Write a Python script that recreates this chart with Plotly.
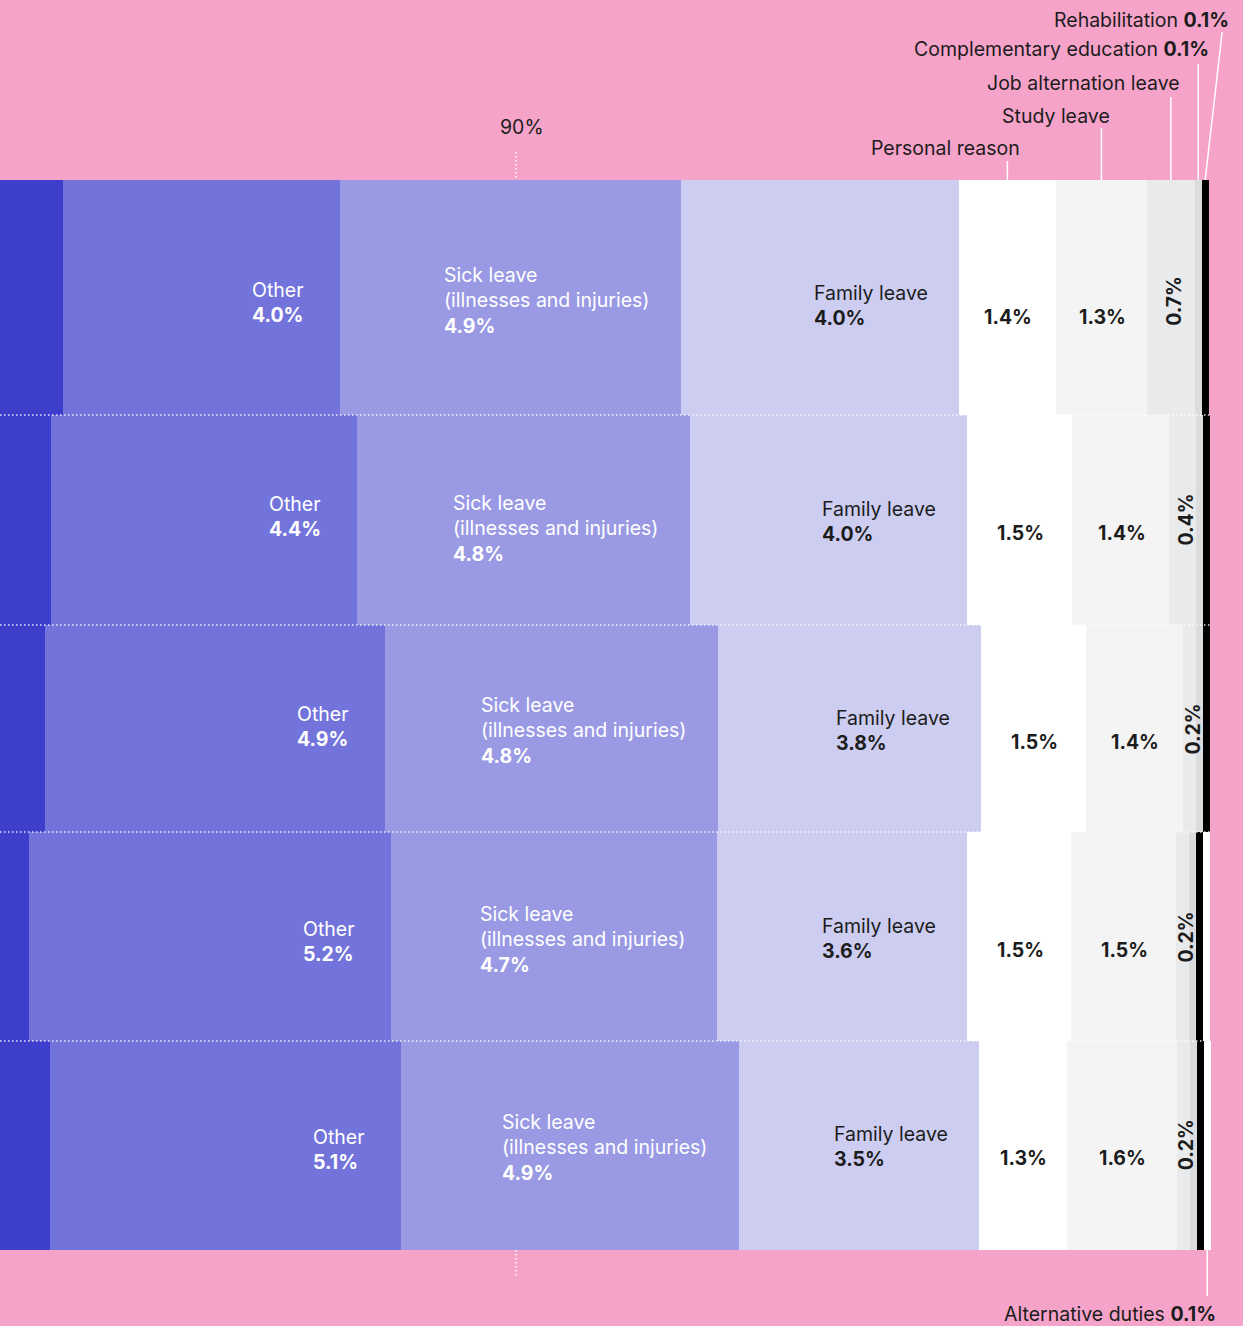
import plotly.graph_objects as go

# shares of working time (%) per row, top row first; stacked left -> right
at_work = [83.47, 83.30, 83.21, 82.98, 83.29]
other = [4.0, 4.41, 4.9, 5.22, 5.06]
sick_leave = [4.91, 4.8, 4.8, 4.7, 4.86]
family_leave = [4.0, 3.99, 3.79, 3.6, 3.46]
personal_reason = [1.4, 1.51, 1.51, 1.5, 1.27]
study_leave = [1.31, 1.4, 1.4, 1.51, 1.58]
job_alternation = [0.69, 0.39, 0.19, 0.19, 0.19]
complementary_education = [0.1, 0.1, 0.1, 0.1, 0.1]
rehabilitation = [0.1, 0.1, 0.1, 0.1, 0.1]
alternative_duties = [0.0, 0.0, 0.0, 0.1, 0.1]

series = [
    ("At work", at_work, "#3e3ecc"),
    ("Other", other, "#7374db"),
    ("Sick leave", sick_leave, "#9a9ae4"),
    ("Family leave", family_leave, "#cccdf0"),
    ("Personal reason", personal_reason, "#ffffff"),
    ("Study leave", study_leave, "#f4f4f4"),
    ("Job alternation leave", job_alternation, "#e9eaec"),
    ("Complementary education", complementary_education, "#dcdcde"),
    ("Rehabilitation", rehabilitation, "#000000"),
    ("Alternative duties", alternative_duties, "#ffffff"),
]

# layout (pixels): y axis runs in pixel units, top to bottom
W, H = 1243, 1326
ROW_EDGES = [180, 415, 625, 832, 1041, 1250]
centers = [(a + b) / 2 for a, b in zip(ROW_EDGES[:-1], ROW_EDGES[1:])]
heights = [b - a for a, b in zip(ROW_EDGES[:-1], ROW_EDGES[1:])]
X_RANGE = [82.565, 100.475]

# vertical nudges (px) of the in-bar labels, per row
DY_OTHER = [4.5, -4, -2.5, 4.5, 3.5]
DY_SICK = [2.5, 8, 1.5, 2.5, 1.5]
DY_FAMILY = [7.5, 1, 1.5, 1.5, 0.5]
DY_SMALL = [19.5, 13, 13.5, 13.5, 12.5]
DY_JOB = [3.5, 0, 0.5, 0.5, -0.5]

PINK = "#f5a3c8"
INK = "#1c1c1c"
FONT = "Inter"
FS = 19.5

fig = go.Figure()
for name, vals, color in series:
    fig.add_trace(go.Bar(
        x=vals, y=centers, width=heights, orientation="h", name=name,
        marker=dict(color=color, line=dict(width=0)), hoverinfo="x+name",
    ))

# cumulative ends per row
ends = {}
run = [0.0] * 5
for name, vals, _ in series:
    run = [r + v for r, v in zip(run, vals)]
    ends[name] = list(run)


def seg_center(name, i):
    idx = [s[0] for s in series].index(name)
    return ends[name][i] - series[idx][1][i] / 2


def label(**kw):
    kw.setdefault("showarrow", False)
    fig.add_annotation(**kw)


for i in range(5):
    cy = centers[i]
    label(x=ends["Other"][i], y=cy + DY_OTHER[i], xanchor="left", xshift=-90,
          text=f"Other<br><b>{other[i]:.1f}%</b>", align="left",
          font=dict(color="white", size=FS))
    label(x=ends["Sick leave"][i], y=cy + DY_SICK[i], xanchor="left", xshift=-239,
          text=f"Sick leave<br>(illnesses and injuries)<br><b>{sick_leave[i]:.1f}%</b>",
          align="left", font=dict(color="white", size=FS))
    label(x=ends["Family leave"][i], y=cy + DY_FAMILY[i], xanchor="left", xshift=-147,
          text=f"Family leave<br><b>{family_leave[i]:.1f}%</b>", align="left",
          font=dict(color=INK, size=FS))
    label(x=seg_center("Personal reason", i), y=cy + DY_SMALL[i], xshift=1,
          text=f"<b>{personal_reason[i]:.1f}%</b>", font=dict(color=INK, size=FS))
    label(x=seg_center("Study leave", i), y=cy + DY_SMALL[i], xshift=1,
          text=f"<b>{study_leave[i]:.1f}%</b>", font=dict(color=INK, size=FS))
    label(x=seg_center("Job alternation leave", i), y=cy + DY_JOB[i], xshift=3,
          text=f"<b>{job_alternation[i]:.1f}%</b>", textangle=-90,
          font=dict(color=INK, size=FS))

# dotted row separators
for yb in ROW_EDGES[1:-1]:
    fig.add_shape(type="line", x0=X_RANGE[0], x1=100, y0=yb, y1=yb,
                  line=dict(color="rgba(255,255,255,0.85)", width=1.5, dash="1.5px,2.5px"))

# 90% tick
for y0, y1 in [(152, ROW_EDGES[0]), (ROW_EDGES[-1], 1278)]:
    fig.add_shape(type="line", x0=90, x1=90, y0=y0, y1=y1,
                  line=dict(color="white", width=1.5, dash="1.5px,2.5px"))
label(x=90, y=127, xshift=6, text="90%", font=dict(color=INK, size=FS))

# callouts above the top row
top_labels = [
    ("Personal reason", "Personal reason", 161, 148, 15),
    ("Study leave", "Study leave", 128, 116, 11),
    ("Job alternation leave", "Job alternation leave", 97, 83, 11),
    ("Complementary education",
     f"Complementary education <b>{complementary_education[0]:.1f}%</b>", 64, 49, 13),
]
for key, text, ytop, ylab, shift in top_labels:
    xc = seg_center(key, 0)
    fig.add_shape(type="line", x0=xc, x1=xc, y0=ytop, y1=ROW_EDGES[0],
                  line=dict(color="white", width=1.5))
    label(x=xc, y=ylab, xanchor="right", xshift=shift, text=text,
          font=dict(color=INK, size=FS))

xr = seg_center("Rehabilitation", 0)
fig.add_shape(type="line", xref="x", xsizemode="pixel", xanchor=xr, x0=17, x1=0,
              y0=32, y1=ROW_EDGES[0], line=dict(color="white", width=1.5))
label(x=xr, y=20, xanchor="right", xshift=26,
      text=f"Rehabilitation <b>{rehabilitation[0]:.1f}%</b>",
      font=dict(color=INK, size=FS))

xa = seg_center("Alternative duties", 4)
fig.add_shape(type="line", x0=xa, x1=xa, y0=ROW_EDGES[-1], y1=1296,
              line=dict(color="white", width=1.5))
label(x=xa, y=1314, xanchor="right", xshift=11,
      text=f"Alternative duties <b>{alternative_duties[-1]:.1f}%</b>",
      font=dict(color=INK, size=FS))

fig.update_layout(
    width=W, height=H, margin=dict(l=0, r=0, t=0, b=0),
    paper_bgcolor=PINK, plot_bgcolor=PINK,
    barmode="stack", showlegend=False,
    font=dict(family=FONT, size=FS, color=INK),
    xaxis=dict(range=X_RANGE, visible=False, fixedrange=True),
    yaxis=dict(range=[H, 0], visible=False, fixedrange=True),
)

fig.write_html("out.html", config={"displayModeBar": False},
               post_script="document.body.style.margin='0';")
